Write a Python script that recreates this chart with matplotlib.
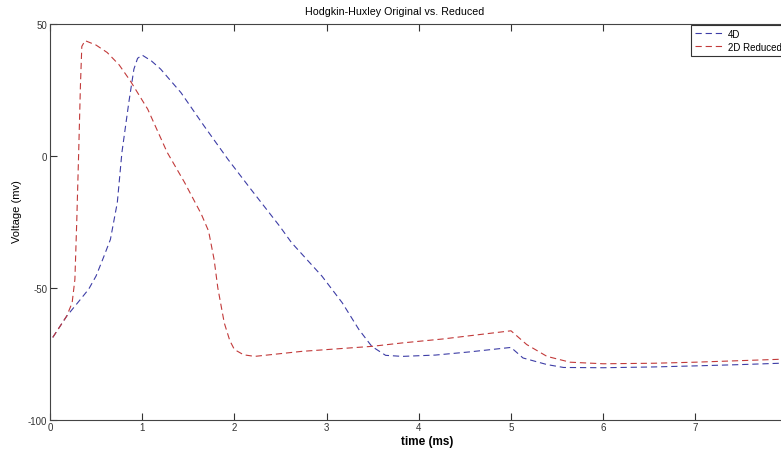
import numpy as np
import matplotlib
matplotlib.use("Agg")
import matplotlib.pyplot as plt

plt.rcParams['font.family'] = ['Liberation Sans', 'DejaVu Sans']
plt.rcParams['lines.scale_dashes'] = False
plt.rcParams['axes.unicode_minus'] = False

# Values
t_4d = [0.03, 0.18, 0.33, 0.42, 0.5, 0.58, 0.655, 0.73, 0.78, 0.855, 0.91, 0.95, 1.0,
        1.1, 1.2, 1.42, 1.67, 1.93, 2.18, 2.49, 2.62, 2.95, 3.17, 3.35, 3.49,
        3.64, 3.82, 4.18, 4.55, 5.0, 5.13, 5.39, 5.57, 6.0, 6.55, 7.0, 7.5, 8.0]
v_4d = [-68.8, -60.8, -54.4, -50.5, -45.5, -38.5, -31.7, -17.7, 1.3, 20.3, 32.9, 37.0, 38.2,
        36.0, 32.9, 24.0, 11.4, -1.3, -12.7, -26.6, -32.9, -45.6, -55.7, -65.8, -72.2,
        -75.6, -76.0, -75.5, -74.3, -72.6, -76.6, -79.1, -80.2, -80.3, -80.0, -79.6, -79.1, -78.5]

t_2d = [0.03, 0.18, 0.24, 0.27, 0.29, 0.31, 0.33, 0.345, 0.38, 0.5, 0.62, 0.75,
        0.87, 1.06, 1.27, 1.46, 1.64, 1.72, 1.78, 1.82, 1.89, 1.95, 2.0, 2.1,
        2.22, 2.73, 3.49, 3.82, 4.26, 5.0, 5.17, 5.39, 5.64, 6.0, 6.55, 7.0, 7.5, 8.0]
v_2d = [-68.8, -60.8, -55.7, -46.8, -25.0, 0.0, 26.6, 41.5, 43.7, 42.0, 39.2, 34.5,
        28.5, 17.7, 1.4, -10.1, -22.0, -28.5, -39.3, -50.0, -63.3, -70.0, -73.4, -75.4,
        -76.0, -74.1, -72.2, -70.9, -69.4, -66.3, -71.5, -76.0, -78.2, -78.8, -78.6, -78.2, -77.6, -77.0]

x_ticks = [0, 1, 2, 3, 4, 5, 6, 7]
y_ticks = [-100, -50, 0, 50]

fig = plt.figure(figsize=(7.81, 4.56), dpi=100)
ax = fig.add_axes([50/781, 35.3/456, 737.6/781, 395.7/456])

ax.plot(t_4d, v_4d, color="#3d3da6", lw=0.8, dashes=(4.5, 2.8), label="4D")
ax.plot(t_2d, v_2d, color="#c23a3a", lw=0.8, dashes=(4.5, 2.8), label="2D Reduced")

ax.set_xlim(0, 8)
ax.set_ylim(-100, 50)
ax.set_xticks(x_ticks)
ax.set_yticks(y_ticks)
ax.tick_params(direction="in", top=True, right=True, length=5, width=0.8,
               labelsize=7, colors="#333333", pad=2)
for s in ax.spines.values():
    s.set_color("#444444")
    s.set_linewidth(0.8)

fig.text(395/781, 1 - 12/456, "Hodgkin-Huxley Original vs. Reduced",
         ha="center", va="center", fontsize=7.7)
fig.text(427/781, 1 - 442/456, "time (ms)", ha="center", va="center",
         fontsize=8.5, fontweight="bold")
fig.text(17/781, 1 - 212/456, "Voltage (mv)", ha="center", va="center",
         rotation=90, fontsize=8)

leg = ax.legend(loc="upper left", bbox_to_anchor=(691/781, 1 - 26/456),
                bbox_transform=fig.transFigure, fontsize=7, fancybox=False,
                framealpha=1, edgecolor="#333333", handlelength=3.0,
                borderpad=0.4, labelspacing=0.3, handletextpad=0.4, borderaxespad=0)
leg.get_frame().set_linewidth(0.8)

plt.savefig("out.png", dpi=100)
